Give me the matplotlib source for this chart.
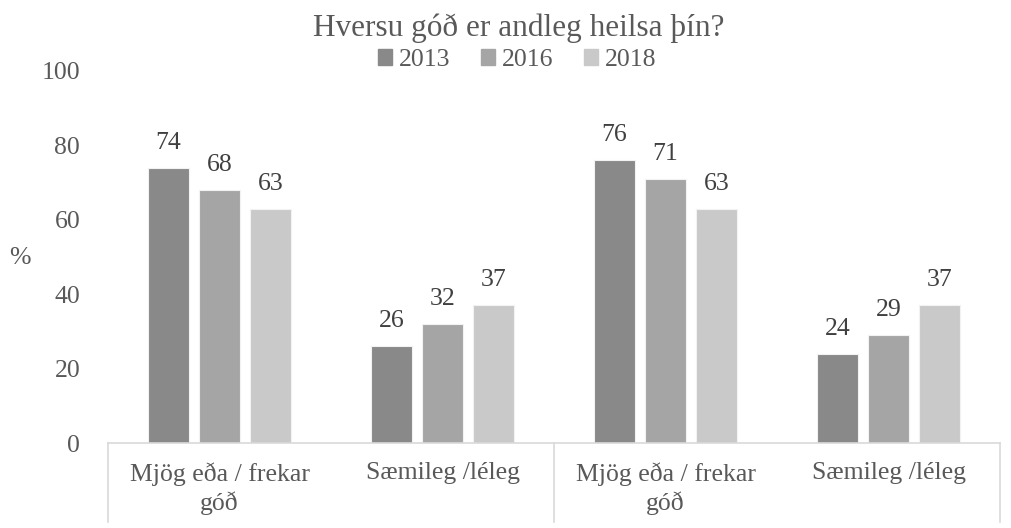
import numpy as np
import matplotlib.pyplot as plt
from matplotlib.patches import Patch
import matplotlib.transforms as mtransforms

plt.rcParams['font.family'] = ['Liberation Serif', 'DejaVu Serif']

categories = ['Mjög eða / frekar\ngóð', 'Sæmileg /léleg',
              'Mjög eða / frekar\ngóð', 'Sæmileg /léleg']
years = ['2013', '2016', '2018']
v2013 = [74, 26, 76, 24]
v2016 = [68, 32, 71, 29]
v2018 = [63, 37, 63, 37]
colors = ['#898989', '#a5a5a5', '#c9c9c9']
text_col = '#595959'
line_col = '#d9d9d9'
fs = 18.5

fig = plt.figure(figsize=(10.12, 5.28), dpi=100)
ax = fig.add_axes([108 / 1012, 85 / 528, 892 / 1012, 372 / 528])

x = np.arange(len(categories))
width = 0.18
step = 0.229
for i, (vals, c) in enumerate(zip([v2013, v2016, v2018], colors)):
    pos = x + (i - 1) * step
    ax.bar(pos, vals, width=width, color=c, edgecolor='#f2f2f2', linewidth=0.8)
    for px, v in zip(pos, vals):
        ax.annotate(str(v), (px, v), xytext=(0, 10), textcoords='offset points',
                    ha='center', va='bottom', fontsize=fs, color='#404040')

ax.set_xlim(-0.5, len(categories) - 0.5)
ax.set_ylim(0, 100)
ax.set_yticks(range(0, 101, 20))
ax.set_xticks(x)
ax.set_xticklabels(categories, linespacing=1.25, multialignment='center')
ax.tick_params(axis='both', length=0, labelsize=fs, labelcolor=text_col)
ax.tick_params(axis='y', pad=20)
ax.tick_params(axis='x', pad=14)
for s in ['top', 'right', 'left']:
    ax.spines[s].set_visible(False)
ax.spines['bottom'].set_color(line_col)
ax.spines['bottom'].set_linewidth(1.2)

# group separators of the two-level axis
trans = mtransforms.blended_transform_factory(ax.transData, ax.transAxes)
for bx in [-0.5, 1.5, 3.5]:
    ax.plot([bx, bx], [0, -79 / 372], transform=trans, color=line_col,
            lw=1.2, clip_on=False)

fig.text(20 / 1012, 1 - 258 / 528, '%', fontsize=fs, color=text_col,
         ha='center', va='center')

fig.suptitle('Hversu góð er andleg heilsa þín?', fontsize=22.5, color=text_col,
             x=519 / 1012, y=1 - 28 / 528, va='center')
handles = [Patch(color=c) for c in colors]
fig.legend(handles, years, loc='center', bbox_to_anchor=(517 / 1012, 1 - 60 / 528),
           ncol=3, frameon=False, fontsize=fs, labelcolor=text_col,
           handlelength=0.55, handleheight=0.55, handletextpad=0.25,
           columnspacing=1.2, borderpad=0, borderaxespad=0)

fig.savefig('out.png', dpi=100)
